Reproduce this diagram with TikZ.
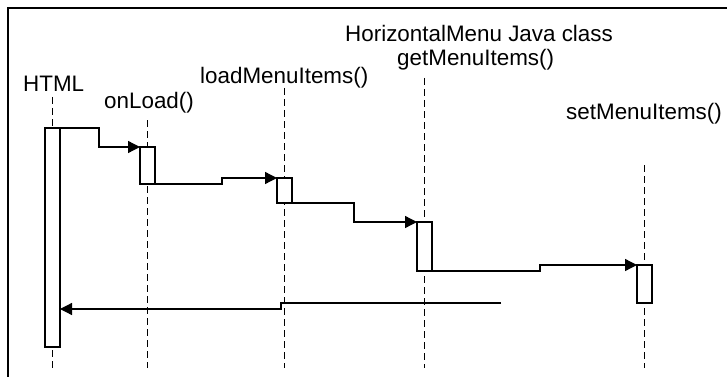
\documentclass[tikz,border=0pt]{standalone}
\usepackage{fontspec}
\setmainfont{Liberation Sans}
\usetikzlibrary{arrows.meta}
\begin{document}
\begin{tikzpicture}[x=1pt,y=-1pt,
  lbl/.style={anchor=base west,inner sep=0pt,font=\fontsize{22.4}{26}\selectfont},
  actbox/.style={draw,fill=white,line width=1.3pt,minimum width=15pt,inner sep=0pt,outer sep=0pt},
  lifeline/.style={dash pattern=on 7pt off 4pt,line width=1.3pt},
  msg/.style={line width=1.3pt,-{Triangle[length=12pt,width=12pt]}},
  frameline/.style={line width=1.8pt}]
\useasboundingbox (0,0) rectangle (727,377);
\draw[frameline] (727,8) -- (8,8) -- (8,377);
% labels
\node[lbl] (lhtml) at (23,91.5) {HTML};
\node[lbl] (lonload) at (104,108) {onLoad()};
\node[lbl] (lload) at (200,83.5) {loadMenuItems()};
\node[lbl] (lclass) at (345,41.5) {HorizontalMenu Java class};
\node[lbl] (lget) at (397,66) {getMenuItems()};
\node[lbl] (lset) at (566,119) {setMenuItems()};
% lifeline ends
\coordinate (t0) at (52.5,97);  \coordinate (b0) at (52.5,368);
\coordinate (t1) at (147.5,120); \coordinate (b1) at (147.5,368);
\coordinate (t2) at (284.5,88);  \coordinate (b2) at (284.5,368);
\coordinate (t3) at (424.5,78);  \coordinate (b3) at (424.5,368);
\coordinate (t4) at (644.5,165); \coordinate (b4) at (644.5,368);
\draw[lifeline] (t0) -- (b0);
\draw[lifeline] (t1) -- (b1);
\draw[lifeline] (t2) -- (b2);
\draw[lifeline] (t3) -- (b3);
\draw[lifeline] (t4) -- (b4);
% activation boxes
\node[actbox,minimum height=219pt] (a0) at (52.5,237.5) {};
\node[actbox,minimum height=37pt] (a1) at (147.5,165.5) {};
\node[actbox,minimum height=25pt] (a2) at (284.5,190.5) {};
\node[actbox,minimum height=49pt] (a3) at (424.5,246.5) {};
\node[actbox,minimum height=38pt] (a4) at (644.5,284) {};
% messages
\draw[msg] (a0.north east) -- ++(39,0) |- (a1.north west);
\draw[msg] (a1.south east) -- ++(67,0) |- (a2.north west);
\draw[msg] (a2.south east) -- ++(62,0) |- (a3.north west);
\draw[msg] (a3.south east) -- ++(108,0) |- (a4.north west);
\coordinate (r0) at (501,303);
\coordinate (r1) at (60,309);
\draw[msg] (r0) -- (281,303) |- (r1);
\end{tikzpicture}
\end{document}
